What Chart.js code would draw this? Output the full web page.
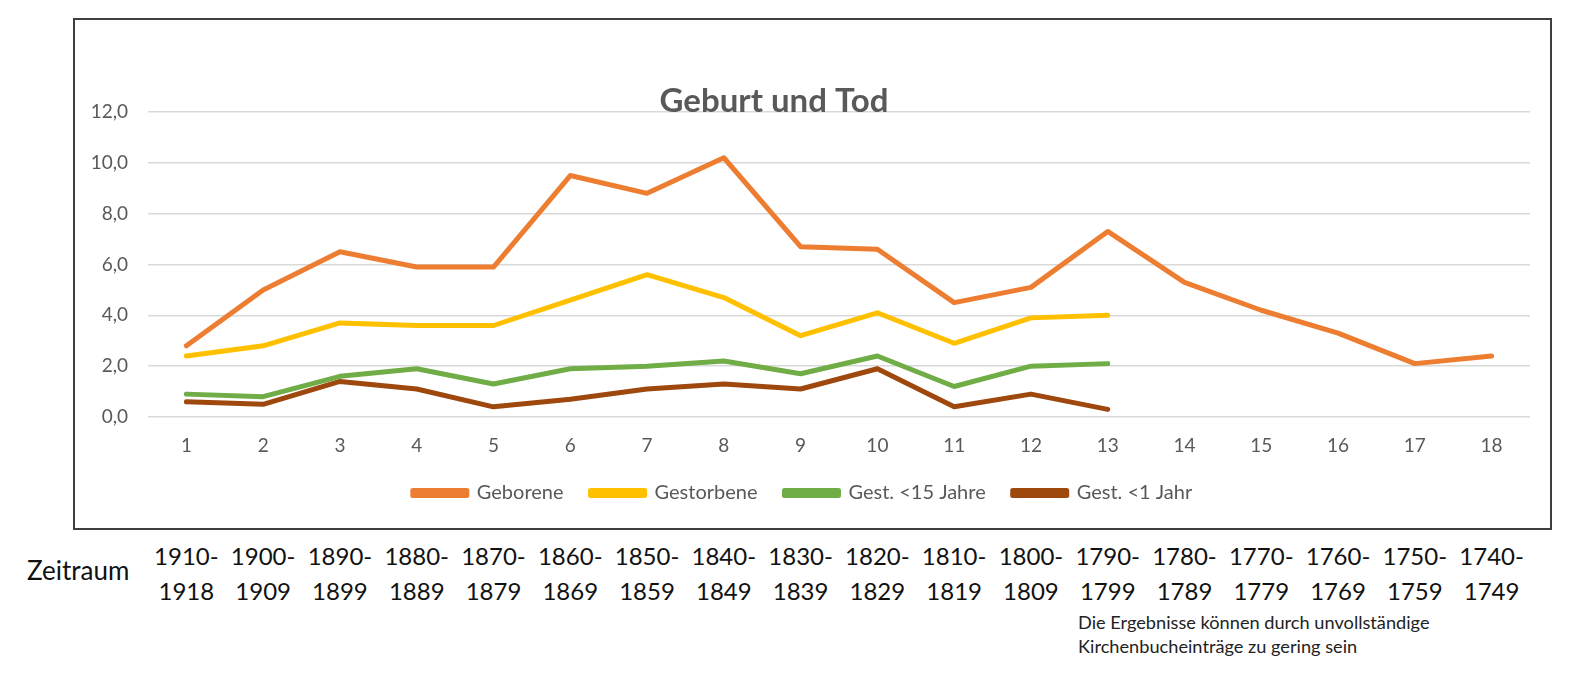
<!DOCTYPE html>
<html>
<head>
<meta charset="utf-8">
<script src="https://cdn.jsdelivr.net/npm/chart.js@4.4.0/dist/chart.umd.min.js"></script>
<style>
  html, body { margin: 0; width: 1583px; height: 673px; overflow: hidden; background: #fff; font-family: Lato, "Open Sans", sans-serif; }
  #box { position: absolute; left: 73px; top: 18px; width: 1475px; height: 508px; border: 2px solid #3f3f3f; }
  #box canvas { display: block; width: 1475px; height: 508px; }
  .period { position: absolute; top: 538px; width: 78px; text-align: center; font-size: 24px; line-height: 35px; color: #111; }
  #zeitraum { position: absolute; left: 27px; top: 554px; font-size: 26px; color: #111; }
  #note { position: absolute; left: 1078px; top: 610px; font-size: 18.2px; line-height: 24px; color: #222; white-space: nowrap; }
</style>
</head>
<body>
<div id="box"><canvas id="chart" width="1475" height="508"></canvas></div>
<div id="zeitraum">Zeitraum</div>
<div id="periods"></div>
<div id="note">Die Ergebnisse können durch unvollständige<br>Kirchenbucheinträge zu gering sein</div>
<script>
// categories (Zeitraum numbers) and their period labels
const categories = ['1','2','3','4','5','6','7','8','9','10','11','12','13','14','15','16','17','18'];
const periodStart = ['1910-','1900-','1890-','1880-','1870-','1860-','1850-','1840-','1830-','1820-','1810-','1800-','1790-','1780-','1770-','1760-','1750-','1740-'];
const periodEnd = ['1918','1909','1899','1889','1879','1869','1859','1849','1839','1829','1819','1809','1799','1789','1779','1769','1759','1749'];

// series values
const geborene = [2.8, 5.0, 6.5, 5.9, 5.9, 9.5, 8.8, 10.2, 6.7, 6.6, 4.5, 5.1, 7.3, 5.3, 4.2, 3.3, 2.1, 2.4];
const gestorbene = [2.4, 2.8, 3.7, 3.6, 3.6, 4.6, 5.6, 4.7, 3.2, 4.1, 2.9, 3.9, 4.0];
const gest15 = [0.9, 0.8, 1.6, 1.9, 1.3, 1.9, 2.0, 2.2, 1.7, 2.4, 1.2, 2.0, 2.1];
const gest1 = [0.6, 0.5, 1.4, 1.1, 0.4, 0.7, 1.1, 1.3, 1.1, 1.9, 0.4, 0.9, 0.3];

const yTicks = [0, 2, 4, 6, 8, 10, 12];

function line(label, data, color) {
  return {
    label, data,
    borderColor: color, backgroundColor: color,
    borderWidth: 5, pointRadius: 0, tension: 0,
    borderCapStyle: 'round', borderJoinStyle: 'round'
  };
}

// title sits on top of the plot like in Excel, so draw it here
const titlePlugin = {
  id: 'overlayTitle',
  afterDraw(chart) {
    const ctx = chart.ctx;
    ctx.save();
    ctx.font = 'bold 33px Lato';
    ctx.fillStyle = '#595959';
    ctx.textAlign = 'center';
    ctx.textBaseline = 'middle';
    ctx.fillText('Geburt und Tod', 699, 81);
    ctx.restore();
  }
};

const chart = new Chart(document.getElementById('chart'), {
  type: 'line',
  data: {
    labels: categories,
    datasets: [
      line('Geborene', geborene, '#ED7D31'),
      line('Gestorbene', gestorbene, '#FFC000'),
      line('Gest. <15 Jahre', gest15, '#70AD47'),
      line('Gest. <1 Jahr', gest1, '#9E480E')
    ]
  },
  options: {
    responsive: false,
    animation: false,
    layout: { padding: { top: 92, right: 20, bottom: 15, left: 0 } },
    scales: {
      x: {
        offset: true,
        grid: { display: false },
        border: { display: false },
        ticks: { color: '#595959', font: { family: 'Lato', size: 19 }, padding: 9 },
        afterFit(scale) { scale.height = 39; }
      },
      y: {
        min: 0, max: 12,
        afterBuildTicks(scale) { scale.ticks = yTicks.map(v => ({ value: v })); },
        grid: { color: '#d9d9d9', lineWidth: 1.5, drawTicks: false },
        border: { display: false },
        ticks: {
          color: '#595959', font: { family: 'Lato', size: 19 }, padding: 20,
          callback: v => v.toFixed(1).replace('.', ',')
        },
        afterFit(scale) { scale.width = 73; }
      }
    },
    plugins: {
      legend: {
        position: 'bottom',
        labels: {
          color: '#595959', font: { family: 'Lato', size: 20 },
          boxWidth: 54, boxHeight: 5, padding: 27
        }
      },
      tooltip: { enabled: false }
    }
  },
  plugins: [titlePlugin]
});

// period labels below the box, aligned with the categories
const periods = document.getElementById('periods');
categories.forEach((c, i) => {
  const x = 75 + chart.scales.x.getPixelForValue(i);
  const d = document.createElement('div');
  d.className = 'period';
  d.style.left = (x - 39) + 'px';
  d.innerHTML = periodStart[i] + '<br>' + periodEnd[i];
  periods.appendChild(d);
});
</script>
</body>
</html>
